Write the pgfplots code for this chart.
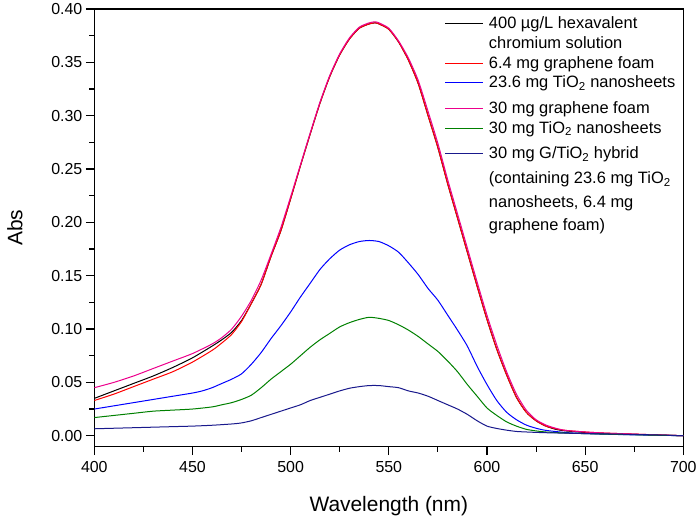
\documentclass[border=0pt]{standalone}
\usepackage{fontspec}
\setmainfont{Liberation Sans}
\usepackage{pgfplots}
\pgfplotsset{compat=1.18}
\definecolor{cgreen}{rgb}{0,0.5,0}
\definecolor{cnavy}{rgb}{0.1,0.1,0.55}
\begin{document}
\begin{tikzpicture}
\begin{axis}[
  scale only axis, width=589bp, height=437.7bp,
  xmin=400, xmax=700, ymin=-0.0103, ymax=0.40,
  xtick={400,450,500,550,600,650,700},
  ytick={0,0.05,0.10,0.15,0.20,0.25,0.30,0.35,0.40},
  minor xtick={425,475,525,575,625,675},
  minor ytick={0.025,0.075,0.125,0.175,0.225,0.275,0.325,0.375},
  xtick pos=bottom, ytick pos=left,
  xtick align=outside, ytick align=outside,
  major tick length=8.5bp, minor tick length=5bp,
  every major tick/.append style={black, line width=1.1bp},
  every minor tick/.append style={black, line width=1.1bp},
  axis line style={line width=1.4bp},
  /pgf/number format/assume math mode=true,
  ticklabel style={font=\fontsize{16}{19}\selectfont},
  xticklabel style={yshift=-3bp},
  yticklabel style={/pgf/number format/.cd, fixed, fixed zerofill, precision=2},
  scaled y ticks=false,
  xlabel={Wavelength (nm)}, ylabel={Abs},
  every axis x label/.style={at={(axis description cs:0.5,0)}, anchor=base, yshift=-65.3bp, font=\fontsize{21}{24}\selectfont},
  every axis y label/.style={at={(axis description cs:0,0.5)}, xshift=-79.3bp, rotate=90, anchor=center, font=\fontsize{21}{24}\selectfont},
  legend image code/.code={\draw[#1] (0bp,5bp) -- (38bp,5bp);},
  legend style={draw=none, fill=none, at={(rel axis cs:0.5954,0.9845)}, anchor=north west,
    inner sep=0pt, outer sep=0pt, row sep=3.5bp, column sep=5bp,
    cells={anchor=base west},
    nodes={inner sep=0pt, text height=12.5bp, text depth=4bp, font=\fontsize{16.5}{19}\selectfont}},
  every axis plot/.append style={line width=1bp, smooth, tension=0.4},
]
% black: 400 ug/L hexavalent chromium solution
\addplot[black] coordinates {
(400,0.035)(410,0.042)(420,0.049)(430,0.056)(440,0.064)(450,0.073)(460,0.084)(465,0.090)(470,0.097)(475,0.108)
(480,0.124)(485,0.142)(490,0.168)(495,0.192)(500,0.222)(505,0.253)(510,0.283)(515,0.312)(520,0.337)(525,0.357)
(530,0.372)(535,0.382)(540,0.386)(543,0.387)(545,0.386)(550,0.381)(555,0.369)(560,0.352)(565,0.330)(570,0.300)
(575,0.270)(580,0.236)(585,0.204)(590,0.172)(595,0.140)(600,0.109)(605,0.081)(610,0.057)(615,0.036)(620,0.022)
(625,0.014)(630,0.009)(635,0.006)(640,0.0045)(650,0.003)(660,0.002)(680,0.001)(700,0.000)};
\addlegendentry{400 µg/L hexavalent}
\addlegendimage{empty legend}
\addlegendentry[text depth=4.5bp]{chromium solution}
% red: 6.4 mg graphene foam
\addplot[red] coordinates {
(400,0.033)(410,0.039)(420,0.046)(430,0.053)(440,0.060)(450,0.069)(460,0.080)(465,0.087)(470,0.095)(475,0.107)
(480,0.124)(485,0.142)(490,0.168)(495,0.192)(500,0.222)(505,0.253)(510,0.283)(515,0.312)(520,0.337)(525,0.357)
(530,0.372)(535,0.382)(540,0.386)(543,0.387)(545,0.386)(550,0.381)(555,0.369)(560,0.352)(565,0.330)(570,0.300)
(575,0.270)(580,0.236)(585,0.204)(590,0.172)(595,0.140)(600,0.109)(605,0.081)(610,0.057)(615,0.036)(620,0.022)
(625,0.014)(630,0.009)(635,0.0065)(640,0.005)(650,0.0035)(660,0.0025)(680,0.0012)(700,0.000)};
\addlegendentry[text depth=3bp]{6.4 mg graphene foam}
% blue: 23.6 mg TiO2 nanosheets
\addplot[blue] coordinates {
(400,0.025)(410,0.028)(420,0.031)(430,0.034)(440,0.037)(450,0.040)(455,0.042)(460,0.045)(465,0.049)(470,0.053)
(475,0.058)(480,0.067)(485,0.078)(490,0.091)(495,0.103)(500,0.116)(505,0.130)(510,0.143)(515,0.156)(520,0.166)
(525,0.174)(530,0.179)(535,0.182)(540,0.183)(545,0.182)(550,0.178)(555,0.172)(560,0.162)(565,0.151)(570,0.138)
(575,0.127)(580,0.113)(585,0.099)(590,0.084)(595,0.065)(600,0.048)(605,0.033)(610,0.022)(615,0.015)(620,0.010)
(625,0.007)(630,0.005)(640,0.003)(650,0.002)(670,0.001)(700,0.000)};
\addlegendentry[text depth=10bp]{23.6 mg TiO\textsubscript{2} nanosheets}
% magenta: 30 mg graphene foam
\addplot[magenta] coordinates {
(400,0.045)(410,0.050)(420,0.056)(430,0.063)(440,0.070)(450,0.077)(460,0.086)(465,0.092)(470,0.100)(475,0.112)
(480,0.127)(485,0.146)(490,0.170)(495,0.195)(500,0.224)(505,0.254)(510,0.284)(515,0.313)(520,0.338)(525,0.358)
(530,0.373)(535,0.383)(540,0.387)(543,0.388)(545,0.387)(550,0.382)(555,0.370)(560,0.354)(565,0.333)(570,0.304)
(575,0.274)(580,0.240)(585,0.208)(590,0.176)(595,0.144)(600,0.113)(605,0.085)(610,0.060)(615,0.039)(620,0.024)
(625,0.015)(630,0.010)(635,0.007)(640,0.005)(650,0.0035)(660,0.0025)(680,0.0012)(700,0.000)};
\addlegendentry[text depth=3.4bp]{30 mg graphene foam}
% green: 30 mg TiO2 nanosheets
\addplot[cgreen] coordinates {
(400,0.017)(410,0.019)(420,0.021)(430,0.023)(440,0.024)(450,0.025)(460,0.027)(465,0.029)(470,0.031)(475,0.034)
(480,0.038)(485,0.045)(490,0.053)(495,0.060)(500,0.067)(505,0.075)(510,0.083)(515,0.090)(520,0.096)(525,0.102)
(530,0.106)(535,0.109)(540,0.111)(545,0.110)(550,0.108)(555,0.104)(560,0.099)(565,0.093)(570,0.086)(575,0.079)
(580,0.070)(585,0.060)(590,0.048)(595,0.037)(600,0.026)(605,0.019)(610,0.013)(615,0.009)(620,0.006)(625,0.0045)
(630,0.0035)(640,0.0025)(660,0.0015)(700,0.000)};
\addlegendentry[text depth=9.6bp]{30 mg TiO\textsubscript{2} nanosheets}
% navy: 30 mg G/TiO2 hybrid
\addplot[cnavy] coordinates {
(400,0.0065)(410,0.007)(420,0.0075)(430,0.008)(440,0.0085)(450,0.009)(460,0.0098)(470,0.011)(475,0.012)(480,0.014)
(485,0.017)(490,0.020)(495,0.023)(500,0.026)(505,0.029)(510,0.033)(515,0.036)(520,0.039)(525,0.042)(530,0.0445)
(535,0.046)(540,0.047)(545,0.047)(550,0.046)(555,0.045)(560,0.042)(565,0.040)(570,0.037)(575,0.033)(580,0.029)
(585,0.025)(590,0.020)(595,0.014)(600,0.009)(605,0.0068)(610,0.0052)(615,0.004)(620,0.0035)(630,0.0028)(650,0.002)
(680,0.001)(700,0.000)};
\addlegendentry[text depth=9bp]{30 mg G/TiO\textsubscript{2} hybrid}
\addlegendimage{empty legend}
\addlegendentry[text depth=7.4bp]{(containing 23.6 mg TiO\textsubscript{2}}
\addlegendimage{empty legend}
\addlegendentry[text depth=7.3bp]{nanosheets, 6.4 mg}
\addlegendimage{empty legend}
\addlegendentry{graphene foam)}
\end{axis}
\path ([shift={(-94.3bp,-72.3bp)}]current axis.south west) ([shift={(16.7bp,9bp)}]current axis.north east);
\end{tikzpicture}
\end{document}
